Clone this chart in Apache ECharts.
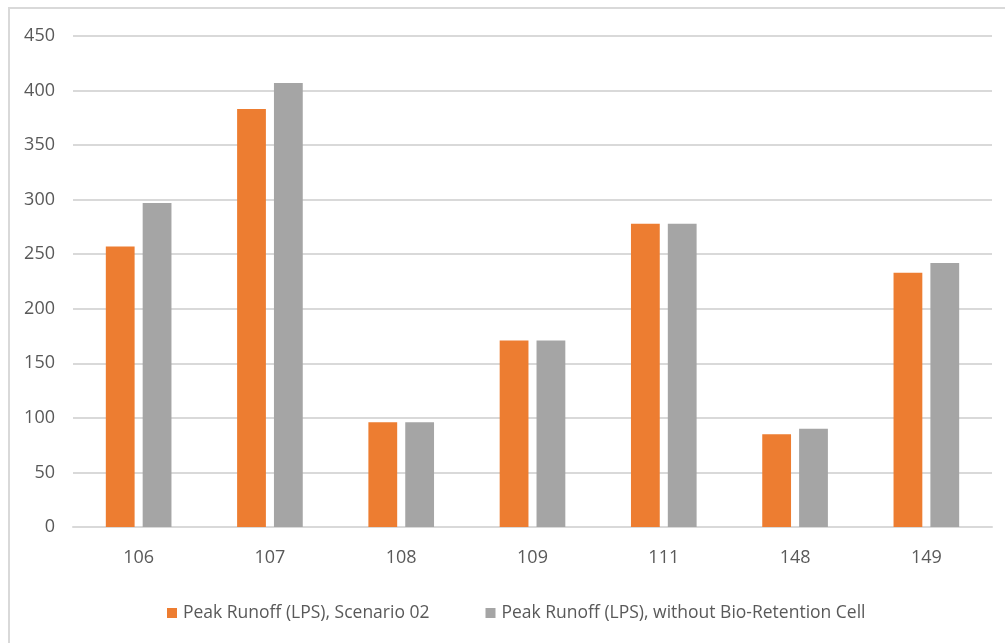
<!DOCTYPE html>
<html>
<head>
<meta charset="utf-8">
<script src="https://cdn.jsdelivr.net/npm/echarts@6/dist/echarts.min.js"></script>
<style>
  html, body { margin: 0; padding: 0; background: #fff; overflow: hidden; }
  #frame { position: absolute; left: 8px; top: 7px; width: 1100px; height: 700px;
           border-left: 2px solid #d9d9d9; border-top: 2px solid #d9d9d9; box-sizing: border-box; }
  #chart { position: absolute; left: 0; top: 0; width: 1005px; height: 643px; }
</style>
</head>
<body>
<div id="frame"></div>
<div id="chart"></div>
<script>
// Catchment IDs along the x axis
const categories = ['106', '107', '108', '109', '111', '148', '149'];
// Peak runoff in litres per second
const scenario02 = [257, 383, 96, 171, 278, 85, 233];
const withoutBRC = [297, 407, 96, 171, 278, 90, 242];
const seriesNames = ['Peak Runoff (LPS), Scenario 02', 'Peak Runoff (LPS), without Bio-Retention Cell'];
const yTicks = { min: 0, max: 450, interval: 50 };

const FONT = '"Open Sans", sans-serif';
const chart = echarts.init(document.getElementById('chart'), null, { renderer: 'canvas' });
chart.setOption({
  backgroundColor: 'transparent',
  animation: false,
  textStyle: { fontFamily: FONT, color: '#595959' },
  grid: { left: 73, right: 13, top: 36, bottom: 116, containLabel: false },
  legend: {
    top: 599,
    left: 162,
    icon: 'rect',
    itemWidth: 10,
    itemHeight: 10,
    itemGap: 56,
    textStyle: { fontFamily: FONT, fontSize: 17.5, color: '#595959', padding: [0, 0, 0, 1] },
    data: seriesNames
  },
  xAxis: {
    type: 'category',
    data: categories,
    axisLine: { lineStyle: { color: '#d9d9d9', width: 2 } },
    axisTick: { show: false },
    axisLabel: { fontFamily: FONT, fontSize: 18, color: '#595959', margin: 22 }
  },
  yAxis: {
    type: 'value',
    min: yTicks.min,
    max: yTicks.max,
    interval: yTicks.interval,
    axisLine: { show: false },
    axisTick: { show: false },
    splitLine: { lineStyle: { color: '#d9d9d9', width: 2 } },
    axisLabel: { fontFamily: FONT, fontSize: 18, color: '#595959', margin: 18 }
  },
  series: [
    { name: seriesNames[0], type: 'bar', data: scenario02, barGap: '28%', barCategoryGap: '50%',
      itemStyle: { color: '#ed7d31' } },
    { name: seriesNames[1], type: 'bar', data: withoutBRC,
      itemStyle: { color: '#a5a5a5' } }
  ]
});
</script>
</body>
</html>
